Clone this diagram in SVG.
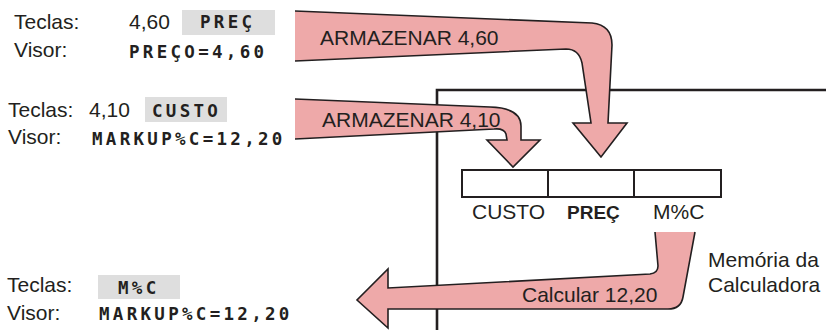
<svg xmlns="http://www.w3.org/2000/svg" width="826" height="330" viewBox="0 0 826 330">
  <style>
    .t { font-family: "Liberation Sans", Arial, sans-serif; font-size: 21px; fill: #231F20; }
    .b { font-family: "Liberation Sans", Arial, sans-serif; font-size: 19px; font-weight: bold; fill: #231F20; }
    .lcd { font-family: "DejaVu Sans Mono", "Liberation Mono", monospace; font-size: 17.5px; font-weight: bold; letter-spacing: 3.3px; fill: #231F20; }
    .key { fill: #DEDEDE; stroke: none; }
    .arrow { fill: #EEA9A9; stroke: #231F20; stroke-width: 1.6; stroke-linejoin: miter; }
    .reg { fill: #FFFFFF; stroke: #231F20; stroke-width: 2; }
    .mem { fill: none; stroke: #231F20; stroke-width: 2.6; }
  </style>

  <g id="memory">
    <path class="mem" d="M437,330 L437,90 L826,90"/>
    <text class="t" x="708" y="267">Memória da</text>
    <text class="t" x="708" y="292">Calculadora</text>
  </g>

  <g id="connectors">
    <path class="arrow" d="M295,11 L592,23 Q612,25 612,45 L608,123 L627,123 L601,157 L573,123 L591,123 L582,63 Q579,49 566,49 L295,61"/>
    <text class="t" x="320" y="45">ARMAZENAR 4,60</text>
    <path class="arrow" d="M295,99 L490,107 Q521,108 521,126 L521,140 L540,140 L513,167 L487,140 L507,140 L506,134 Q504,128 494,129 L295,139"/>
    <text class="t" x="322" y="127">ARMAZENAR 4,10</text>
    <path class="arrow" d="M655,232 L658,266 Q658,273 650,274 L388,288 L388,269 L357,300 L388,328 L388,309 L668,309 Q681,309 683,297 L695,232"/>
    <text class="t" x="522" y="302">Calcular 12,20</text>
  </g>

  <g id="reg-custo">
    <rect class="reg" x="462" y="170" width="86" height="27"/>
    <text class="t" x="472" y="219">CUSTO</text>
  </g>
  <g id="reg-prec">
    <rect class="reg" x="548" y="170" width="86" height="27"/>
    <text class="b" x="567" y="219">PREÇ</text>
  </g>
  <g id="reg-mc">
    <rect class="reg" x="634" y="170" width="87" height="27"/>
    <text class="t" x="653" y="219">M%C</text>
  </g>

  <g id="step1">
    <text class="t" x="14" y="29">Teclas:</text>
    <text class="t" x="129" y="29">4,60</text>
    <rect class="key" x="182" y="10" width="93" height="25"/>
    <text class="lcd" x="200" y="28">PREÇ</text>
    <text class="t" x="14" y="57">Visor:</text>
    <text class="lcd" x="129" y="58">PREÇO=4,60</text>
  </g>

  <g id="step2">
    <text class="t" x="8" y="117">Teclas:</text>
    <text class="t" x="89" y="117">4,10</text>
    <rect class="key" x="145" y="97" width="82" height="25"/>
    <text class="lcd" x="152" y="117">CUSTO</text>
    <text class="t" x="8" y="144">Visor:</text>
    <text class="lcd" x="92" y="145">MARKUP%C=12,20</text>
  </g>

  <g id="step3">
    <text class="t" x="7" y="292">Teclas:</text>
    <rect class="key" x="98" y="275" width="82" height="24"/>
    <text class="lcd" x="118" y="294">M%C</text>
    <text class="t" x="7" y="320">Visor:</text>
    <text class="lcd" x="99" y="320">MARKUP%C=12,20</text>
  </g>
</svg>
